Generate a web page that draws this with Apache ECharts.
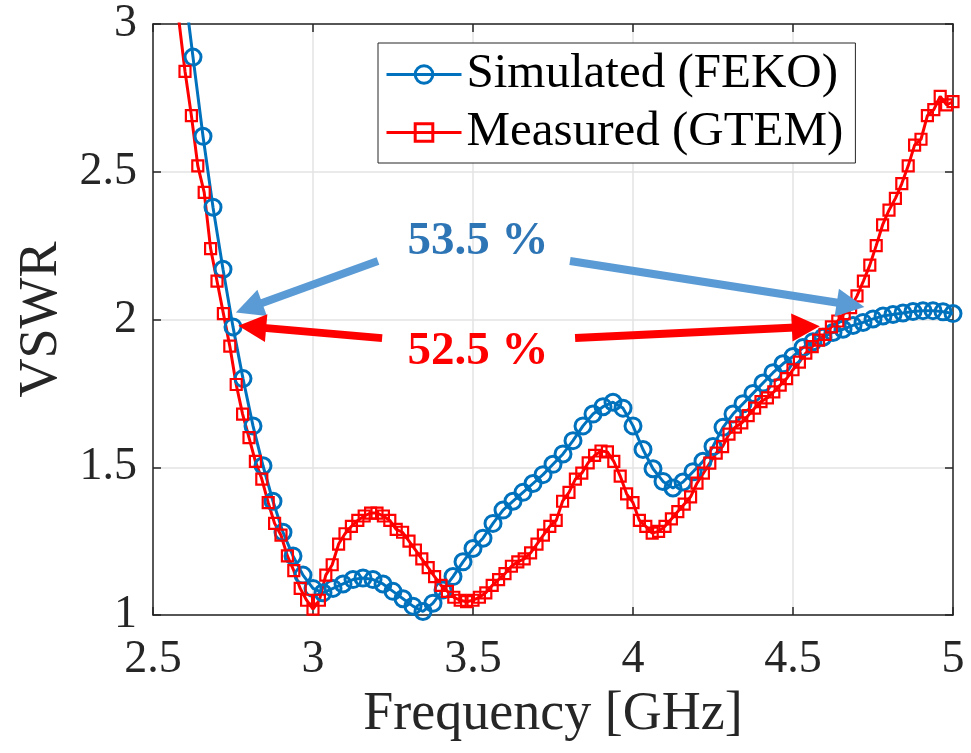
<!DOCTYPE html>
<html><head><meta charset="utf-8">
<title>VSWR - Simulated vs Measured</title>
<script src="https://cdn.jsdelivr.net/npm/echarts@6/dist/echarts.min.js"></script>
<style>
  html, body { margin: 0; padding: 0; background: #fff; }
  #chart { width: 971px; height: 753px; }
</style>
</head>
<body>
<div id="chart"></div>
<script>
// frequency sweeps (GHz)
var simStart = 2.5, simStep = 0.03125;
var measStart = 2.5, measStep = 0.02;

// Simulated (FEKO), one value per 0.03125 GHz from 2.5 GHz
var simVswr = [
  3.95, 3.70, 3.44, 3.16, 2.888, 2.62, 2.38, 2.17, 1.975, 1.80,
  1.64, 1.505, 1.385, 1.28, 1.20, 1.135, 1.09, 1.075, 1.09, 1.105,
  1.12, 1.125, 1.12, 1.105, 1.08, 1.055, 1.03, 1.012, 1.04, 1.085,
  1.13, 1.18, 1.225, 1.26, 1.31, 1.355, 1.385, 1.415, 1.445, 1.475,
  1.51, 1.545, 1.59, 1.64, 1.68, 1.705, 1.72, 1.70, 1.64, 1.56,
  1.495, 1.452, 1.43, 1.45, 1.485, 1.52, 1.57, 1.635, 1.68, 1.715,
  1.75, 1.785, 1.82, 1.85, 1.875, 1.905, 1.925, 1.94, 1.956, 1.967,
  1.98, 1.99, 2.002, 2.012, 2.017, 2.022, 2.027, 2.03, 2.03, 2.026,
  2.02
];

// Measured (GTEM), one value per 0.02 GHz from 2.5 GHz
var measVswr = [
  3.62, 3.47, 3.32, 3.17, 3.02, 2.84, 2.69, 2.52, 2.43, 2.24,
  2.13, 2.02, 1.91, 1.78, 1.68, 1.60, 1.52, 1.46, 1.38, 1.31,
  1.27, 1.20, 1.15, 1.09, 1.05, 1.02, 1.05, 1.135, 1.17, 1.24,
  1.275, 1.30, 1.32, 1.335, 1.345, 1.345, 1.335, 1.32, 1.29, 1.28,
  1.25, 1.22, 1.19, 1.16, 1.13, 1.10, 1.08, 1.06, 1.05, 1.045,
  1.05, 1.06, 1.075, 1.10, 1.12, 1.14, 1.165, 1.18, 1.19, 1.21,
  1.24, 1.27, 1.30, 1.32, 1.385, 1.415, 1.46, 1.48, 1.515, 1.54,
  1.555, 1.552, 1.52, 1.47, 1.41, 1.38, 1.32, 1.30, 1.277, 1.283,
  1.30, 1.325, 1.35, 1.375, 1.40, 1.446, 1.48, 1.514, 1.548, 1.57,
  1.612, 1.636, 1.65, 1.675, 1.70, 1.722, 1.735, 1.755, 1.778, 1.80,
  1.83, 1.856, 1.886, 1.908, 1.93, 1.95, 1.975, 1.995, 2.02, 2.04,
  2.08, 2.13, 2.184, 2.25, 2.32, 2.37, 2.41, 2.46, 2.52, 2.59,
  2.61, 2.69, 2.71, 2.755, 2.726, 2.737
];

var seriesNames = ['Simulated (FEKO)', 'Measured (GTEM)'];

// bandwidth annotations: text and arrows [from, to] in data coordinates
var bwLabels = [
  { name: '53.5 %', coord: [3.516, 2.262], color: '#2E75B6' },
  { name: '52.5 %', coord: [3.516, 1.89], color: '#FF0000' }
];
var bwArrows = [
  { from: [3.203, 2.198], to: [2.80, 2.04], color: '#5B9BD5' },
  { from: [3.803, 2.198], to: [4.68, 2.05], color: '#5B9BD5' },
  { from: [3.216, 1.937], to: [2.81, 1.975], color: '#FF0000' },
  { from: [3.819, 1.937], to: [4.54, 1.975], color: '#FF0000' }
];

function pairs(start, step, vals) {
  return vals.map(function (v, i) { return [+(start + i * step).toFixed(5), v]; });
}

var axisColor = '#262626';
var serif = 'Liberation Serif';

var chart = echarts.init(document.getElementById('chart'), null, { renderer: 'canvas' });

var option = {
  animation: false,
  backgroundColor: '#fff',
  textStyle: { fontFamily: serif },
  grid: { left: 153, right: 18, top: 24, bottom: 138, containLabel: false },
  legend: {
    data: seriesNames,
    orient: 'vertical',
    left: 378, top: 43,
    backgroundColor: '#fff',
    borderColor: axisColor, borderWidth: 1, borderRadius: 0,
    padding: [6, 12, 5, 7],
    itemGap: 7,
    itemWidth: 75, itemHeight: 22,
    lineStyle: { width: 3 },
    itemStyle: { borderWidth: 3 },
    textStyle: { fontFamily: serif, fontSize: 49, color: '#000', lineHeight: 51 }
  },
  xAxis: [{
    type: 'value', min: 2.5, max: 5, interval: 0.5,
    name: 'Frequency [GHz]', nameLocation: 'middle', nameGap: 62,
    nameTextStyle: { fontFamily: serif, fontSize: 54, color: axisColor },
    axisLine: { show: true, lineStyle: { color: axisColor, width: 1.5 } },
    axisTick: { show: true, inside: true, length: 8, lineStyle: { color: axisColor, width: 1.5 } },
    axisLabel: { fontFamily: serif, fontSize: 46, color: axisColor, margin: 22 },
    splitLine: { show: true, lineStyle: { color: '#e3e3e3', width: 1.5 } }
  }, {
    type: 'value', min: 2.5, max: 5, interval: 0.5, position: 'top',
    axisLine: { show: true, onZero: false, lineStyle: { color: axisColor, width: 1.5 } },
    axisTick: { show: true, inside: true, length: 8, lineStyle: { color: axisColor, width: 1.5 } },
    axisLabel: { show: false }, splitLine: { show: false }
  }],
  yAxis: [{
    type: 'value', min: 1, max: 3, interval: 0.5,
    name: 'VSWR', nameLocation: 'middle', nameGap: 67, nameRotate: 90,
    nameTextStyle: { fontFamily: serif, fontSize: 54, color: axisColor },
    axisLine: { show: true, lineStyle: { color: axisColor, width: 1.5 } },
    axisTick: { show: true, inside: true, length: 8, lineStyle: { color: axisColor, width: 1.5 } },
    axisLabel: { fontFamily: serif, fontSize: 46, color: axisColor, margin: 16 },
    splitLine: { show: true, lineStyle: { color: '#e3e3e3', width: 1.5 } }
  }, {
    type: 'value', min: 1, max: 3, interval: 0.5, position: 'right',
    axisLine: { show: true, onZero: false, lineStyle: { color: axisColor, width: 1.5 } },
    axisTick: { show: true, inside: true, length: 8, lineStyle: { color: axisColor, width: 1.5 } },
    axisLabel: { show: false }, splitLine: { show: false }
  }],
  series: [{
    name: seriesNames[0], type: 'line', clip: true,
    data: pairs(simStart, simStep, simVswr),
    color: '#0072BD',
    symbol: 'circle', symbolSize: 16, showAllSymbol: true,
    lineStyle: { color: '#0072BD', width: 3 },
    itemStyle: { color: 'rgba(0,0,0,0)', borderColor: '#0072BD', borderWidth: 3 },
    emphasis: { disabled: true }
  }, {
    name: seriesNames[1], type: 'line', clip: true,
    data: pairs(measStart, measStep, measVswr),
    color: '#FF0000',
    symbol: 'rect', symbolSize: 11, showAllSymbol: true,
    lineStyle: { color: '#FF0000', width: 3 },
    itemStyle: { color: 'rgba(0,0,0,0)', borderColor: '#FF0000', borderWidth: 2.2 },
    emphasis: { disabled: true }
  }, {
    name: 'annotations', type: 'line', data: [], silent: true,
    markLine: {
      silent: true, animation: false,
      symbol: ['none', 'triangle'], symbolSize: 28,
      label: { show: false },
      emphasis: { disabled: true },
      data: bwArrows.map(function (a) {
        return [
          { coord: a.from, lineStyle: { color: a.color, width: 8, type: 'solid' }, itemStyle: { color: a.color } },
          { coord: a.to, itemStyle: { color: a.color } }
        ];
      })
    },
    markPoint: {
      silent: true, animation: false,
      symbol: 'circle', symbolSize: 1, itemStyle: { color: 'rgba(0,0,0,0)' },
      label: { show: true, position: 'inside', formatter: '{b}', fontFamily: serif, fontSize: 47, fontWeight: 'bold' },
      data: bwLabels.map(function (t) {
        return { name: t.name, coord: t.coord, label: { color: t.color } };
      })
    }
  }]
};

chart.setOption(option);
</script>
</body></html>
